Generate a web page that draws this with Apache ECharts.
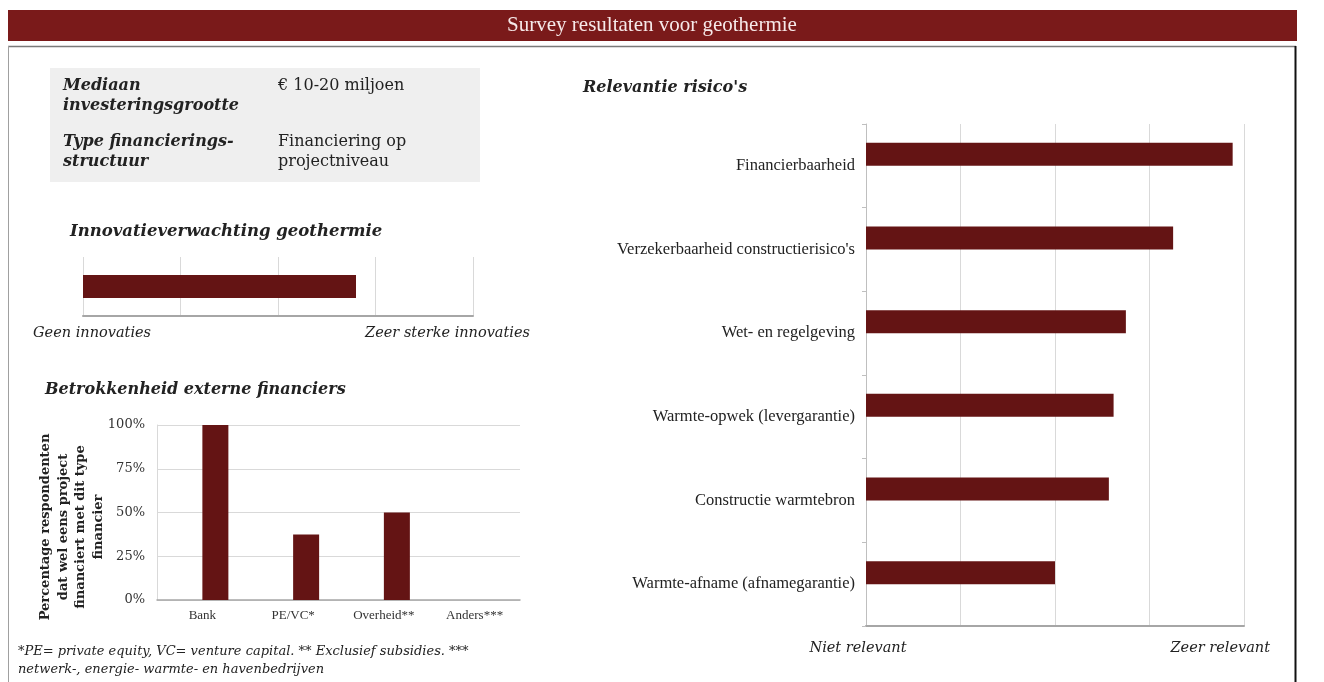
<!DOCTYPE html>
<html>
<head>
<meta charset="utf-8">
<title>Survey resultaten voor geothermie</title>
<script src="https://cdn.jsdelivr.net/npm/echarts@6/dist/echarts.min.js"></script>
<style>
  html, body { margin: 0; padding: 0; background: #ffffff; }
  #chart { width: 1324px; height: 682px; }
</style>
</head>
<body>
<div id="chart"></div>
<script>
// ---- content ----
const pageTitle = 'Survey resultaten voor geothermie';

const infoLabels = [['Mediaan', 'investeringsgrootte'], ['Type financierings-', 'structuur']];
const infoValues = [['€ 10-20 miljoen'], ['Financiering op', 'projectniveau']];

const innovationTitle = 'Innovatieverwachting geothermie';
const innovationCategory = ['Geothermie'];
const innovationScore = [3.8];
const innovationEnds = ['Geen innovaties', 'Zeer sterke innovaties'];

const financierTitle = 'Betrokkenheid externe financiers';
const financierTypes = ['Bank', 'PE/VC*', 'Overheid**', 'Anders***'];
const financierShare = [100, 37.5, 50, 0];
const financierAxisName = ['Percentage respondenten', 'dat wel eens project', 'financiert met dit type', 'financier'];
const footnoteLines = [
  '*PE= private equity, VC= venture capital. ** Exclusief subsidies. ***',
  'netwerk-, energie- warmte- en havenbedrijven'
];

const riskTitle = "Relevantie risico's";
const riskCategories = [
  'Financierbaarheid',
  "Verzekerbaarheid constructierisico's",
  'Wet- en regelgeving',
  'Warmte-opwek (levergarantie)',
  'Constructie warmtebron',
  'Warmte-afname (afnamegarantie)'
];
const riskScores = [4.88, 4.25, 3.75, 3.62, 3.57, 3.0];
const riskEnds = ['Niet relevant', 'Zeer relevant'];

// 1 = lowest, 5 = highest on both rating scales
const scaleMin = 1;
const scaleMax = 5;

// ---- styling ----
const BAR = '#641414';
const HEADER = '#7a1a1a';
const GRID_LINE = '#d9d9d9';
const AXIS_LINE = '#a6a6a6';
const SERIF = '"DejaVu Serif", Georgia, serif';
const NARROW_SERIF = '"Liberation Serif", "Times New Roman", serif';

const barStyle = { color: BAR };

function text(x, y, str, font, opts) {
  return {
    type: 'text', x: x, y: y, silent: true,
    style: Object.assign({ text: str, font: font, fill: '#222', align: 'left', verticalAlign: 'middle' }, opts || {})
  };
}

const graphic = [
  // header band
  { type: 'rect', shape: { x: 8, y: 10, width: 1289, height: 31 }, style: { fill: HEADER }, silent: true },
  text(652, 25.5, pageTitle, '21px ' + NARROW_SERIF, { fill: '#f6e9e9', align: 'center' }),
  // panel frame
  { type: 'line', shape: { x1: 8, y1: 46.5, x2: 1296, y2: 46.5 }, style: { stroke: '#7a7a7a', lineWidth: 1.5 }, silent: true },
  { type: 'line', shape: { x1: 8.5, y1: 46, x2: 8.5, y2: 682 }, style: { stroke: '#a0a0a0', lineWidth: 1 }, silent: true },
  { type: 'line', shape: { x1: 1295.5, y1: 46, x2: 1295.5, y2: 682 }, style: { stroke: '#111', lineWidth: 2 }, silent: true },
  // key facts box
  { type: 'rect', shape: { x: 50, y: 68, width: 430, height: 114 }, style: { fill: '#efefef' }, silent: true },
  text(63, 86, infoLabels[0][0], 'italic bold 16px ' + SERIF),
  text(63, 106, infoLabels[0][1], 'italic bold 16px ' + SERIF),
  text(63, 142, infoLabels[1][0], 'italic bold 16px ' + SERIF),
  text(63, 162, infoLabels[1][1], 'italic bold 16px ' + SERIF),
  text(278, 86, infoValues[0][0], '16px ' + SERIF),
  text(278, 142, infoValues[1][0], '16px ' + SERIF),
  text(278, 162, infoValues[1][1], '16px ' + SERIF),
  // section titles
  text(70, 232, innovationTitle, 'italic bold 16.5px ' + SERIF),
  text(45, 390, financierTitle, 'italic bold 16px ' + SERIF),
  text(583, 88, riskTitle, 'italic bold 16px ' + SERIF),
  // scale end labels
  text(33, 333, innovationEnds[0], 'italic 14.5px ' + SERIF),
  text(530, 333, innovationEnds[1], 'italic 14.5px ' + SERIF, { align: 'right' }),
  text(858, 648, riskEnds[0], 'italic 14.5px ' + SERIF, { align: 'center' }),
  text(1270, 648, riskEnds[1], 'italic 14.5px ' + SERIF, { align: 'right' }),
  // rotated value-axis title of the financier chart
  {
    type: 'text', x: 72, y: 527, rotation: Math.PI / 2, silent: true,
    style: {
      text: financierAxisName.join('\n'), font: 'bold 13px ' + SERIF, lineHeight: 17.5,
      fill: '#222', align: 'center', verticalAlign: 'middle'
    }
  },
  // footnote
  text(18, 652, footnoteLines[0], 'italic 13px ' + SERIF),
  text(18, 670, footnoteLines[1], 'italic 13px ' + SERIF)
];

const option = {
  animation: false,
  backgroundColor: '#ffffff',
  graphic: graphic,
  grid: [
    { left: 83, top: 257, width: 390, height: 59 },   // innovation
    { left: 157, top: 425, width: 363, height: 175 }, // financiers
    { left: 866, top: 124, width: 378, height: 502 }  // risks
  ],
  xAxis: [
    {
      gridIndex: 0, type: 'value', min: scaleMin, max: scaleMax, interval: 1,
      axisLabel: { show: false }, axisTick: { show: false },
      axisLine: { show: true, onZero: false, lineStyle: { color: AXIS_LINE, width: 2 } },
      splitLine: { show: true, lineStyle: { color: GRID_LINE, width: 1 } }
    },
    {
      gridIndex: 1, type: 'category', data: financierTypes,
      axisTick: { show: false },
      axisLine: { show: true, lineStyle: { color: AXIS_LINE, width: 1.5 } },
      axisLabel: { color: '#333', fontFamily: NARROW_SERIF, fontSize: 13, margin: 9 }
    },
    {
      gridIndex: 2, type: 'value', min: scaleMin, max: scaleMax, interval: 1,
      axisLabel: { show: false }, axisTick: { show: false },
      axisLine: { show: true, onZero: false, lineStyle: { color: AXIS_LINE, width: 2 } },
      splitLine: { show: true, lineStyle: { color: GRID_LINE, width: 1 } }
    }
  ],
  yAxis: [
    {
      gridIndex: 0, type: 'category', data: innovationCategory,
      axisLabel: { show: false }, axisTick: { show: false }, axisLine: { show: false }
    },
    {
      gridIndex: 1, type: 'value', min: 0, max: 100, interval: 25,
      axisLabel: { formatter: '{value}%', color: '#333', fontFamily: SERIF, fontSize: 13, margin: 12 },
      axisTick: { show: false },
      axisLine: { show: true, lineStyle: { color: GRID_LINE, width: 1 } },
      splitLine: { show: true, lineStyle: { color: GRID_LINE, width: 1 } }
    },
    {
      gridIndex: 2, type: 'category', data: riskCategories, inverse: true,
      axisLabel: { color: '#222', fontFamily: NARROW_SERIF, fontSize: 16.5, margin: 11 },
      axisTick: { show: true, length: 4, lineStyle: { color: '#bfbfbf' } },
      axisLine: { show: true, lineStyle: { color: '#bfbfbf', width: 1 } }
    }
  ],
  series: [
    {
      name: 'Innovatieverwachting', type: 'bar', xAxisIndex: 0, yAxisIndex: 0,
      data: innovationScore, barWidth: 23, itemStyle: barStyle
    },
    {
      // unused companion series: keeps each bar just right of its category centre
      name: 'Referentie', type: 'bar', xAxisIndex: 1, yAxisIndex: 1,
      data: financierTypes.map(() => null), barWidth: 26, barGap: '0%'
    },
    {
      name: 'Betrokkenheid', type: 'bar', xAxisIndex: 1, yAxisIndex: 1,
      data: financierShare, barWidth: 26, barGap: '0%', itemStyle: barStyle
    },
    {
      name: 'Relevantie', type: 'bar', xAxisIndex: 2, yAxisIndex: 2,
      data: riskScores, barWidth: 23, barGap: '0%', itemStyle: barStyle
    },
    {
      // unused companion series: places each risk bar just above its label
      name: 'Referentie risico', type: 'bar', xAxisIndex: 2, yAxisIndex: 2,
      data: riskCategories.map(() => null), barWidth: 23, barGap: '0%'
    }
  ]
};

const chart = echarts.init(document.getElementById('chart'), null, { renderer: 'canvas' });
chart.setOption(option);
</script>
</body>
</html>
